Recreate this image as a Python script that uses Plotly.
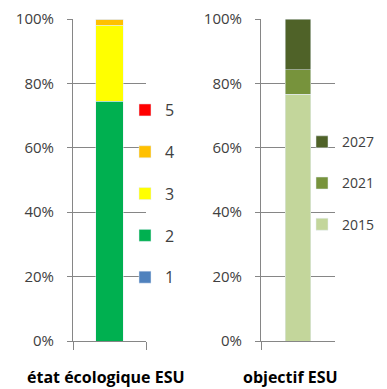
import plotly.graph_objects as go

# left chart: etat ecologique ESU (share of water bodies per class)
etat_classes = ['1', '2', '3', '4', '5']
etat_values = [0, 74.5, 23.5, 2.0, 0]
etat_colors = ['#4f81bd', '#00b050', '#ffff00', '#ffc000', '#ff0000']

# right chart: objectif ESU (deadline for good status)
objectif_years = ['2015', '2021', '2027']
objectif_values = [76.7, 7.5, 15.8]
objectif_colors = ['#c3d69b', '#77933c', '#4f6228']

pct_ticks = [0, 20, 40, 60, 80, 100]
pct_labels = ['0%', '20%', '40%', '60%', '80%', '100%']

font_family = 'Open Sans, Noto Sans, sans-serif'
grey = '#868686'
text_col = '#404040'

# page body adds an 8px margin, so work in figure pixels = screen - 8
W, H = 379, 381

fig = go.Figure()

for i, (cls, val, col) in enumerate(zip(etat_classes, etat_values, etat_colors)):
    fig.add_trace(go.Bar(
        x=['etat'], y=[val], name=cls, marker_color=col,
        width=0.38, xaxis='x', yaxis='y',
        legend='legend', legendgroup='e' + cls, legendrank=100 - i
    ))

for i, (yr, val, col) in enumerate(zip(objectif_years, objectif_values, objectif_colors)):
    fig.add_trace(go.Bar(
        x=['objectif'], y=[val], name=yr, marker_color=col,
        width=0.34, xaxis='x2', yaxis='y2',
        legend='legend2', legendgroup='o' + yr, legendrank=100 - i
    ))

yax = dict(
    range=[0, 100], tickvals=pct_ticks, ticktext=pct_labels,
    showgrid=True, gridcolor=grey, gridwidth=1,
    showline=True, linecolor=grey, linewidth=1,
    ticks='outside', ticklen=5, tickcolor=grey,
    ticklabelstandoff=10, zeroline=False,
    tickfont=dict(family=font_family, size=15, color=text_col),
)
xax = dict(
    showline=True, linecolor=grey, linewidth=1,
    ticks='outside', tickson='boundaries', ticklen=8, tickcolor=grey,
    showticklabels=False, showgrid=False,
)

title_font = dict(family=font_family, size=16, color='#000000', weight='bold')

fig.update_layout(
    width=W, height=H,
    margin=dict(l=0, r=0, t=11, b=48),
    paper_bgcolor='white', plot_bgcolor='white',
    barmode='stack',
    font=dict(family=font_family, color=text_col),
    xaxis=dict(xax, domain=[65 / W, 138 / W], anchor='y'),
    yaxis=dict(yax, domain=[0, 1], anchor='x'),
    xaxis2=dict(xax, domain=[253 / W, 327 / W], anchor='y2'),
    yaxis2=dict(yax, domain=[0, 1], anchor='x2'),
    legend=dict(
        x=117 / W, y=0.77, xanchor='left', yanchor='top',
        traceorder='grouped', tracegroupgap=18,
        bgcolor='rgba(0,0,0,0)', font=dict(size=16, color=text_col),
        itemwidth=30,
    ),
    legend2=dict(
        x=294 / W, y=0.667, xanchor='left', yanchor='top',
        traceorder='grouped', tracegroupgap=20,
        bgcolor='rgba(0,0,0,0)', font=dict(size=14, color=text_col),
        itemwidth=30,
    ),
    annotations=[
        dict(text='état écologique ESU', x=98 / W, y=-36 / 322,
             xref='paper', yref='paper', showarrow=False,
             xanchor='center', yanchor='middle', font=title_font),
        dict(text='objectif ESU', x=282 / W, y=-36 / 322,
             xref='paper', yref='paper', showarrow=False,
             xanchor='center', yanchor='middle', font=title_font),
    ],
)

fig.write_html('out.html')
